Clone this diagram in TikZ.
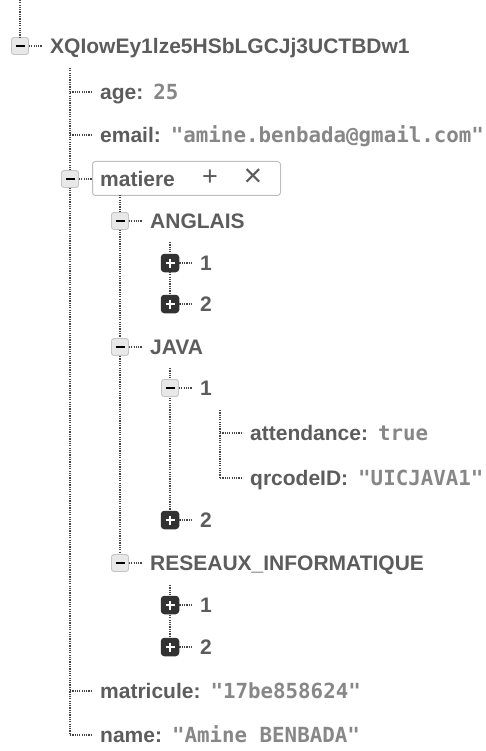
\documentclass[tikz,border=0pt]{standalone}
\usepackage{fontspec}
\setmainfont{Liberation Sans}
\newfontfamily\monof[Ligatures=TeXOff]{DejaVu Sans Mono}
\definecolor{keycol}{RGB}{92,92,92}
\definecolor{valcol}{RGB}{135,135,135}
\definecolor{linecol}{RGB}{70,70,70}
\definecolor{boxfill}{RGB}{232,232,232}
\definecolor{boxedge}{RGB}{196,196,196}
\definecolor{darkbox}{RGB}{50,50,50}
\definecolor{frame}{RGB}{190,190,190}
\newcommand\kf{\color{keycol}\fontsize{21}{21}\selectfont\bfseries}
\newcommand\vf{\color{valcol}\monof\fontsize{20.8}{20}\selectfont}
\tikzset{
  conn/.style={draw=linecol, line width=1.2pt, dash pattern=on 1.2pt off 1.1pt},
  minusbox/.style={draw=boxedge, fill=boxfill, rounded corners=2.5pt,
    minimum size=17pt, inner sep=0pt, line width=0.9pt,
    path picture={\draw[line width=2.6pt, black]
      ([xshift=-4.5pt]path picture bounding box.center) --
      ([xshift=4.5pt]path picture bounding box.center);}},
  plusbox/.style={fill=darkbox, rounded corners=3.5pt,
    minimum size=18.5pt, inner sep=0pt,
    path picture={\draw[line width=2.8pt, white]
      ([xshift=-4.5pt]path picture bounding box.center) --
      ([xshift=4.5pt]path picture bounding box.center)
      ([yshift=-4.5pt]path picture bounding box.center) --
      ([yshift=4.5pt]path picture bounding box.center);}},
  label/.style={anchor=west, inner sep=0pt, text height=15pt, text depth=0pt},
  editbox/.style={draw=frame, fill=white, line width=1pt, rounded corners=3pt,
    minimum width=188pt, minimum height=34pt, inner sep=0pt},
  sign/.style={inner sep=0pt, text=keycol},
}
\begin{document}
\begin{tikzpicture}[x=1pt, y=-1pt]
\useasboundingbox (0,0) rectangle (486,751);

% ---------- root ----------
\coordinate (rootTop) at (20,0);
\node[minusbox] (rootBox) at (20,46) {};
\node[label] (root) at (50,46) {\kf XQIowEy1lze5HSbLGCJj3UCTBDw1};
\draw[conn] (rootTop) -- (rootBox.north);
\draw[conn] (rootBox.east) -- ([xshift=-8pt]root.west);

% stem of the root's children
\coordinate (s1a) at (70,68);
\coordinate (s1b) at (70,735);
\draw[conn] (s1a) -- (s1b);

% ---------- leaves of the root ----------
\node[label] (age) at (100,92) {\kf age:\hspace{10pt}\vf 25};
\node[label] (email) at (100,135) {\kf email:\hspace{10pt}\vf "amine.benbada@gmail.com"};
\node[label] (matricule) at (100,691) {\kf matricule:\hspace{10pt}\vf "17be858624"};
\node[label] (name) at (100,735) {\kf name:\hspace{10pt}\vf "Amine BENBADA"};
\foreach \n in {age,email,matricule,name}
  \draw[conn] (\n.west -| s1a) -- ([xshift=-8pt]\n.west);

% ---------- matiere ----------
\node[editbox, anchor=north west] (edit) at (92,161) {};
\node[minusbox] (matBox) at (70,179) {};
\node[label] (mat) at (100,179) {\kf matiere};
\node[sign, font=\fontsize{27}{27}\selectfont] (plusSign) at (210,178) {+};
\node[sign, font=\fontsize{32}{32}\selectfont] (timesSign) at (253,178) {×};
\draw[conn] (matBox.east) -- (edit.west |- matBox);

% stem of matiere's children
\coordinate (s2a) at (120,195);
\coordinate (s2b) at (120,563);
\draw[conn] (s2a) -- (s2b);

% ---------- ANGLAIS ----------
\node[minusbox] (angBox) at (120,221) {};
\node[label] (ang) at (150,221) {\kf ANGLAIS};
\draw[conn] (angBox.east) -- ([xshift=-8pt]ang.west);
\coordinate (s3a) at (170,242);
\coordinate (s3b) at (170,304);
\draw[conn] (s3a) -- (s3b);
\node[plusbox] (a1Box) at (170,263) {};
\node[label] (a1) at (200,263) {\kf 1};
\node[plusbox] (a2Box) at (170,304) {};
\node[label] (a2) at (200,304) {\kf 2};
\draw[conn] (a1Box.east) -- ([xshift=-8pt]a1.west);
\draw[conn] (a2Box.east) -- ([xshift=-8pt]a2.west);

% ---------- JAVA ----------
\node[minusbox] (javBox) at (120,347) {};
\node[label] (jav) at (150,347) {\kf JAVA};
\draw[conn] (javBox.east) -- ([xshift=-8pt]jav.west);
\coordinate (s4a) at (170,368);
\coordinate (s4b) at (170,520);
\draw[conn] (s4a) -- (s4b);
\node[minusbox] (j1Box) at (170,388) {};
\node[label] (j1) at (200,388) {\kf 1};
\draw[conn] (j1Box.east) -- ([xshift=-8pt]j1.west);
\coordinate (s5a) at (220,410);
\coordinate (s5b) at (220,478);
\draw[conn] (s5a) -- (s5b);
\node[label] (att) at (250,433) {\kf attendance:\hspace{10pt}\vf true};
\node[label] (qr) at (250,478) {\kf qrcodeID:\hspace{10pt}\vf "UICJAVA1"};
\foreach \n in {att,qr}
  \draw[conn] (\n.west -| s5a) -- ([xshift=-7pt]\n.west);
\node[plusbox] (j2Box) at (170,520) {};
\node[label] (j2) at (200,520) {\kf 2};
\draw[conn] (j2Box.east) -- ([xshift=-8pt]j2.west);

% ---------- RESEAUX_INFORMATIQUE ----------
\node[minusbox] (resBox) at (120,563) {};
\node[label] (res) at (150,563) {\kf RESEAUX\_INFORMATIQUE};
\draw[conn] (resBox.east) -- ([xshift=-8pt]res.west);
\coordinate (s6a) at (170,585);
\coordinate (s6b) at (170,647);
\draw[conn] (s6a) -- (s6b);
\node[plusbox] (r1Box) at (170,605) {};
\node[label] (r1) at (200,605) {\kf 1};
\node[plusbox] (r2Box) at (170,647) {};
\node[label] (r2) at (200,647) {\kf 2};
\draw[conn] (r1Box.east) -- ([xshift=-8pt]r1.west);
\draw[conn] (r2Box.east) -- ([xshift=-8pt]r2.west);
\end{tikzpicture}
\end{document}
